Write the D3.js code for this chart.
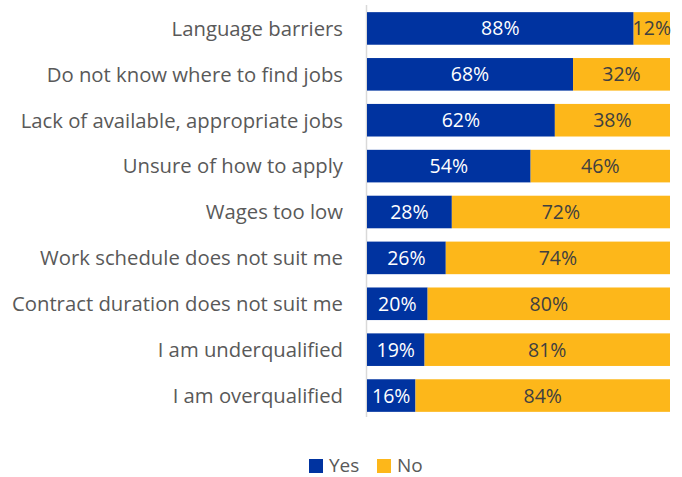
<!DOCTYPE html>
<html>
<head>
<meta charset="utf-8">
<script src="https://cdn.jsdelivr.net/npm/d3@7"></script>
<style>
  html, body { margin: 0; padding: 0; background: #fff; }
  svg { display: block; font-family: "Open Sans", sans-serif; }
</style>
</head>
<body>
<svg id="chart" width="682" height="477"></svg>
<script>
// Reasons for not looking for work: share answering Yes / No
const categories = [
  "Language barriers",
  "Do not know where to find jobs",
  "Lack of available, appropriate jobs",
  "Unsure of how to apply",
  "Wages too low",
  "Work schedule does not suit me",
  "Contract duration does not suit me",
  "I am underqualified",
  "I am overqualified"
];
const yesValues = [88, 68, 62, 54, 28, 26, 20, 19, 16];
const noValues  = [12, 32, 38, 46, 72, 74, 80, 81, 84];
const seriesNames = ["Yes", "No"];
const colors = { Yes: "#0033A0", No: "#FDB71A" };

const rows = categories.map((c, i) => ({ category: c, Yes: yesValues[i], No: noValues[i] }));

const svg = d3.select("#chart");
const margin = { left: 367, right: 12, top: 12, bottom: 64 };
const W = 682;

const x = d3.scaleLinear().domain([0, 100]).range([margin.left, W - margin.right]);
const y = d3.scaleBand().domain(categories).range([margin.top - 6.5, 418.5]).paddingInner(0.29).paddingOuter(0.145);

const stack = d3.stack().keys(seriesNames)(rows);

// category axis line
svg.append("line")
  .attr("x1", margin.left - 0.5).attr("x2", margin.left - 0.5)
  .attr("y1", 5).attr("y2", 417)
  .attr("stroke", "#d9d9d9").attr("stroke-width", 1.5);

const layer = svg.selectAll("g.layer").data(stack).join("g")
  .attr("class", "layer")
  .attr("fill", d => colors[d.key]);

layer.selectAll("rect").data(d => d).join("rect")
  .attr("x", d => x(d[0]))
  .attr("width", d => x(d[1]) - x(d[0]))
  .attr("y", d => y(d.data.category))
  .attr("height", y.bandwidth());

// value labels
stack.forEach(s => {
  svg.append("g").selectAll("text").data(s).join("text")
    .attr("x", d => (x(d[0]) + x(d[1])) / 2)
    .attr("y", d => y(d.data.category) + y.bandwidth() / 2)
    .attr("dy", "0.36em")
    .attr("text-anchor", "middle")
    .attr("font-size", 19.5)
    .attr("fill", s.key === "Yes" ? "#ffffff" : "#404040")
    .text(d => d.data[s.key] + "%");
});

// category labels
svg.append("g").selectAll("text").data(categories).join("text")
  .attr("x", 343)
  .attr("y", d => y(d) + y.bandwidth() / 2)
  .attr("dy", "0.36em")
  .attr("text-anchor", "end")
  .attr("font-size", 20.3)
  .attr("fill", "#595959")
  .text(d => d);

// legend
const legend = svg.append("g").attr("transform", "translate(309,459)");
const items = [{ key: "Yes", x: 0 }, { key: "No", x: 68 }];
items.forEach(it => {
  legend.append("rect").attr("x", it.x).attr("y", 0).attr("width", 14).attr("height", 14)
    .attr("fill", colors[it.key]);
  legend.append("text").attr("x", it.x + 20).attr("y", 13)
    .attr("font-size", 19).attr("fill", "#595959").text(it.key);
});
</script>
</body>
</html>
